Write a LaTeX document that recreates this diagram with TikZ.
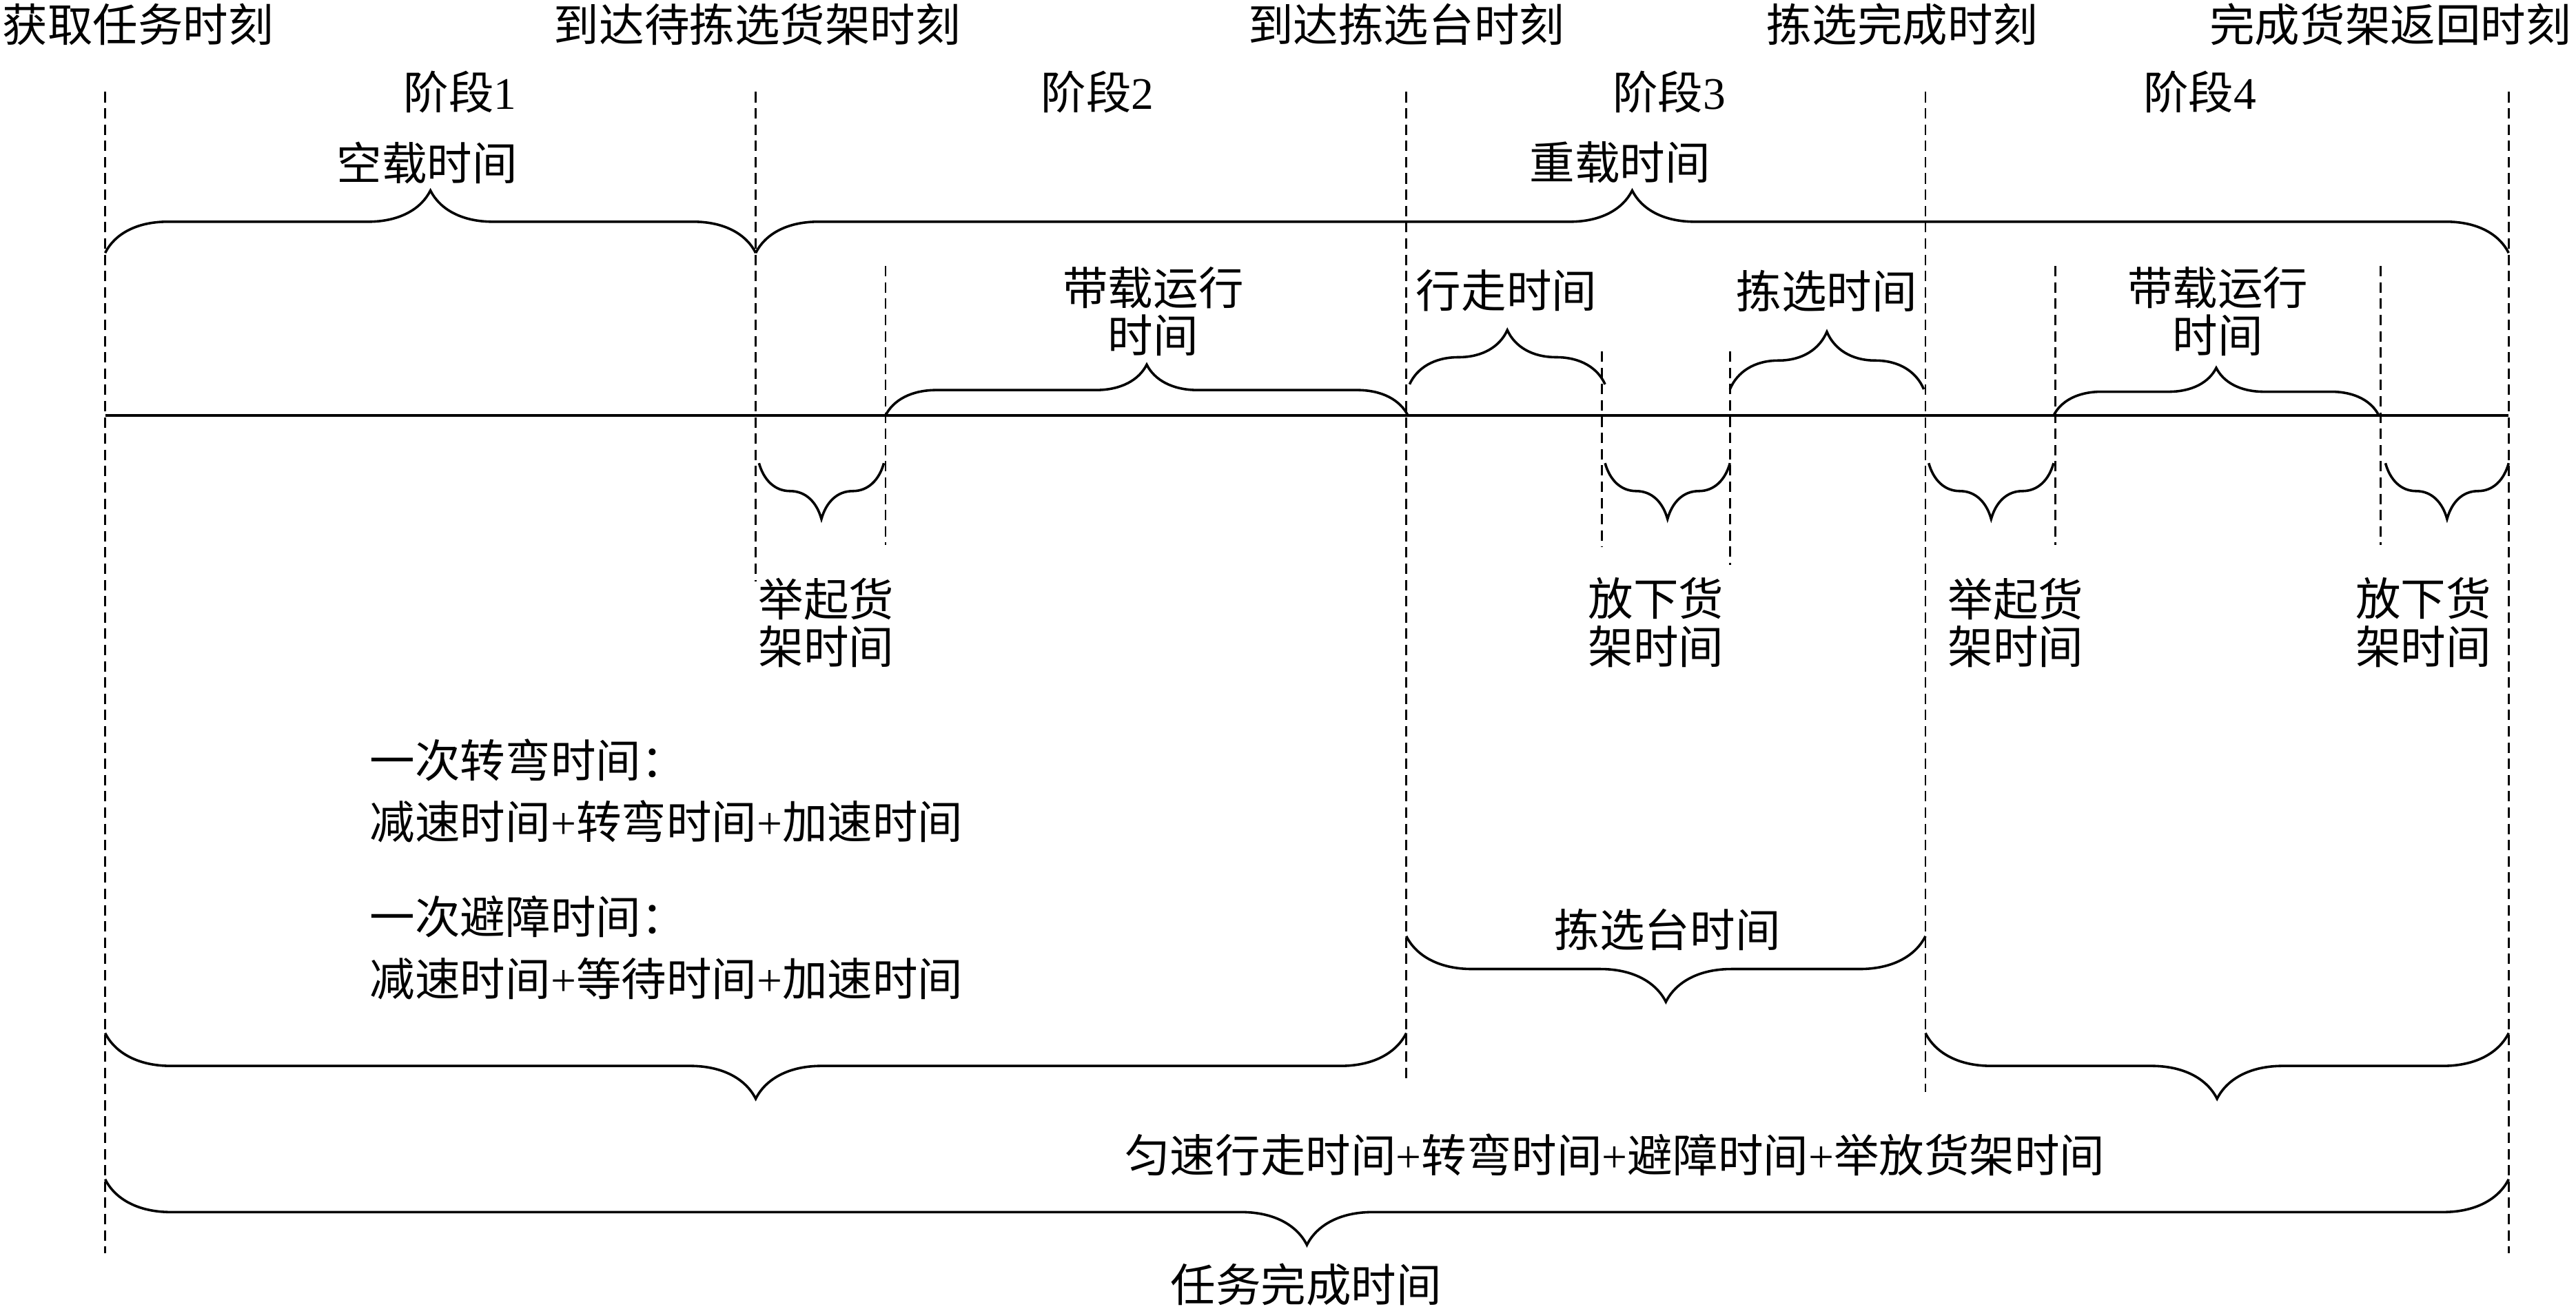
\documentclass[tikz,border=0pt]{standalone}
\usepackage{fontspec}
\setmainfont{Noto Sans CJK SC}
\newfontfamily\lat{Liberation Serif}
\usetikzlibrary{decorations.pathreplacing}
\begin{document}
\begin{tikzpicture}[x=1pt,y=1pt,
  lbl/.style={inner sep=0pt, align=center, font=\fontsize{27.5}{29}\selectfont},
  guide/.style={line width=1.15pt, dash pattern=on 6.3pt off 3.6pt},
  axisline/.style={line width=1.7pt},
  bup/.style={line width=1.5pt, decorate, decoration={brace, amplitude=#1}},
  bdown/.style={line width=1.5pt, decorate, decoration={brace, amplitude=#1, mirror}},
]
\useasboundingbox (0,0) rectangle (1568,-796.6);

% guide lines (dashed)
\foreach \n/\x/\ya/\yb in {g0/64/56/763, g1/460/56/354, g2/539/162/332,
  g3/856/56/659, g4/975/214/333, g5/1053/214/344, g6/1172/56/665,
  g7/1251/162/332, g8/1449/162/332, g9/1527/56/763}{
  \coordinate (\n a) at (\x,-\ya);
  \coordinate (\n b) at (\x,-\yb);
  \draw[guide] (\n a) -- (\n b);
}

% main time axis
\coordinate (axL) at (64,-253);
\coordinate (axR) at (1527,-253);
\draw[axisline] (axL) -- (axR);

% brace end points
\coordinate (e1a) at (64,-154);   \coordinate (e1b) at (460,-154);
\coordinate (e2a) at (460,-154);  \coordinate (e2b) at (1527,-154);
\coordinate (e3a) at (539,-253);  \coordinate (e3b) at (857,-253);
\coordinate (e4a) at (858,-234);  \coordinate (e4b) at (977,-234);
\coordinate (e5a) at (1053,-237); \coordinate (e5b) at (1171,-237);
\coordinate (e6a) at (1250,-253); \coordinate (e6b) at (1448,-253);
\coordinate (f1a) at (462,-282);  \coordinate (f1b) at (538,-282);
\coordinate (f2a) at (977,-282);  \coordinate (f2b) at (1053,-282);
\coordinate (f3a) at (1174,-282); \coordinate (f3b) at (1250,-282);
\coordinate (f4a) at (1452,-282); \coordinate (f4b) at (1527,-282);
\coordinate (h1a) at (856,-570);  \coordinate (h1b) at (1172,-570);
\coordinate (h2a) at (64,-629);   \coordinate (h2b) at (856,-629);
\coordinate (h3a) at (1172,-629); \coordinate (h3b) at (1527,-629);
\coordinate (h4a) at (64,-718);   \coordinate (h4b) at (1527,-718);

% upward braces
\draw[bup=38] (e1a) -- (e1b);
\draw[bup=38] (e2a) -- (e2b);
\draw[bup=31] (e3a) -- (e3b);
\draw[bup=33] (e4a) -- (e4b);
\draw[bup=35] (e5a) -- (e5b);
\draw[bup=29] (e6a) -- (e6b);
% downward braces
\draw[bdown=34] (f1a) -- (f1b);
\draw[bdown=34] (f2a) -- (f2b);
\draw[bdown=34] (f3a) -- (f3b);
\draw[bdown=34] (f4a) -- (f4b);
\draw[bdown=40] (h1a) -- (h1b);
\draw[bdown=40] (h2a) -- (h2b);
\draw[bdown=40] (h3a) -- (h3b);
\draw[bdown=40] (h4a) -- (h4b);

% time instants
\node[lbl] (m0) at (84,-15) {获取任务时刻};
\node[lbl] (m1) at (461,-15) {到达待拣选货架时刻};
\node[lbl] (m2) at (856,-15) {到达拣选台时刻};
\node[lbl] (m3) at (1158,-15) {拣选完成时刻};
\node[lbl] (m4) at (1455,-15) {完成货架返回时刻};

% stages
\node[lbl] (s1) at (280,-56) {阶段{\lat 1}};
\node[lbl] (s2) at (668,-56) {阶段{\lat 2}};
\node[lbl] (s3) at (1016,-56) {阶段{\lat 3}};
\node[lbl] (s4) at (1339,-56) {阶段{\lat 4}};

% brace labels
\node[lbl] (k1) at (260,-99) {空载时间};
\node[lbl] (k2) at (986,-99) {重载时间};
\node[lbl] (d1) at (702,-189.5) {带载运行\\时间};
\node[lbl] (w1) at (917,-177) {行走时间};
\node[lbl] (p1) at (1112,-177) {拣选时间};
\node[lbl] (d2) at (1350,-189.5) {带载运行\\时间};
\node[lbl] (j1) at (503,-379) {举起货\\架时间};
\node[lbl] (x1) at (1008,-379) {放下货\\架时间};
\node[lbl] (j2) at (1227,-379) {举起货\\架时间};
\node[lbl] (x2) at (1475,-379) {放下货\\架时间};

% notes
\node[lbl, anchor=west] (n1) at (225,-463) {一次转弯时间：};
\node[lbl, anchor=west] (n2) at (225,-500) {减速时间{\lat +}转弯时间{\lat +}加速时间};
\node[lbl, anchor=west] (n3) at (225,-558) {一次避障时间：};
\node[lbl, anchor=west] (n4) at (225,-596) {减速时间{\lat +}等待时间{\lat +}加速时间};

\node[lbl] (t1) at (1015,-566) {拣选台时间};
\node[lbl] (t2) at (983,-703) {匀速行走时间{\lat +}转弯时间{\lat +}避障时间{\lat +}举放货架时间};
\node[lbl] (t3) at (795,-782) {任务完成时间};
\end{tikzpicture}
\end{document}
